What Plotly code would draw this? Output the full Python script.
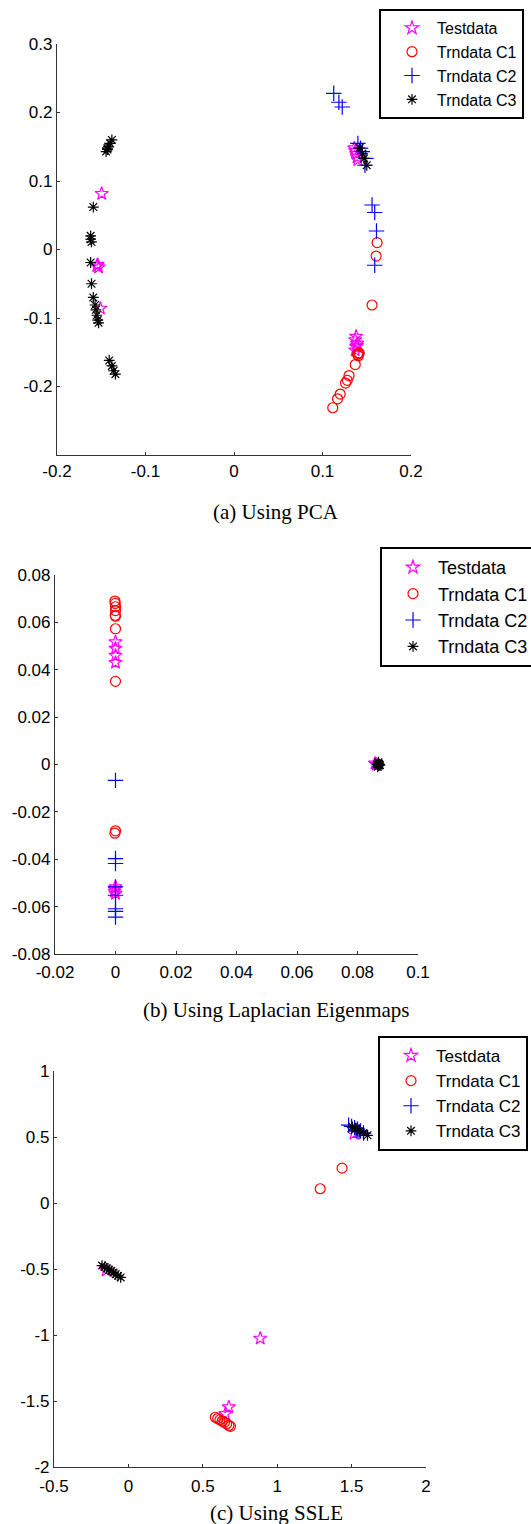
import plotly.graph_objects as go

W, H = 531, 1524

# ---------------- (a) PCA ----------------
a_test_x = [-0.1495, -0.154, -0.153, -0.155, -0.151, 0.136, 0.137, 0.138, 0.139, 0.140, 0.137, 0.138, 0.139, 0.137, 0.138, 0.139]
a_test_y = [0.0815, -0.022, -0.026, -0.024, -0.086, 0.148, 0.144, 0.140, 0.135, 0.131, -0.147, -0.142, -0.137, -0.132, -0.127, -0.140]
a_c1_x = [0.1617, 0.1606, 0.156, 0.1414, 0.1395, 0.1405, 0.1410, 0.137, 0.130, 0.128, 0.126, 0.120, 0.117, 0.1116]
a_c1_y = [0.010, -0.0096, -0.081, -0.151, -0.153, -0.155, -0.152, -0.168, -0.184, -0.191, -0.195, -0.211, -0.218, -0.231]
a_c2_x = [0.1127, 0.1185, 0.1223, 0.140, 0.143, 0.145, 0.149, 0.148, 0.156, 0.159, 0.161, 0.159]
a_c2_y = [0.228, 0.215, 0.208, 0.155, 0.148, 0.143, 0.133, 0.123, 0.065, 0.054, 0.027, -0.023]
a_c3_x = [-0.138, -0.140, -0.142, -0.143, -0.1445, -0.143, -0.159, -0.162, -0.162, -0.161, -0.162, -0.161, -0.159,
          -0.157, -0.156, -0.155, -0.154, -0.153, -0.141, -0.138, -0.136, -0.134, 0.142, 0.145, 0.147, 0.150]
a_c3_y = [0.160, 0.155, 0.150, 0.146, 0.143, 0.148, 0.062, 0.020, 0.015, 0.011, -0.019, -0.050, -0.070,
          -0.081, -0.088, -0.096, -0.103, -0.107, -0.162, -0.170, -0.177, -0.182, 0.148, 0.140, 0.133, 0.123]

# ---------------- (b) Laplacian Eigenmaps ----------------
b_test_x = [0.0, 0.0, 0.0, 0.0, 0.0, -0.0003, 0.0, -0.0002, 0.0858, 0.0862]
b_test_y = [0.0517, 0.049, 0.046, 0.043, -0.0517, -0.0535, -0.0545, -0.0525, 0.0005, 0.0]
b_c1_x = [-0.0002, -0.0001, 0.0, 0.0, -0.0001, 0.0, 0.0, 0.0, 0.0, -0.0002]
b_c1_y = [0.069, 0.068, 0.0666, 0.065, 0.063, 0.0626, 0.0573, 0.0351, -0.028, -0.029]
b_c2_x = [0.0, 0.0, 0.0, 0.0, 0.0, 0.0, 0.0, 0.0]
b_c2_y = [-0.0067, -0.0397, -0.0418, -0.0517, -0.0552, -0.0609, -0.062, -0.0644]
b_c3_x = [0.0865, 0.0868, 0.0870, 0.0872, 0.0869, 0.0867, 0.0871, 0.0874]
b_c3_y = [0.0, 0.0005, -0.0005, 0.0, 0.001, -0.001, 0.0003, -0.0003]

# ---------------- (c) SSLE ----------------
c_test_x = [1.516, 0.886, 0.675, 0.652, -0.15]
c_test_y = [0.526, -1.026, -1.546, -1.597, -0.51]
c_c1_x = [1.436, 1.289, 0.584, 0.600, 0.615, 0.630, 0.645, 0.660, 0.675, 0.686]
c_c1_y = [0.264, 0.108, -1.623, -1.633, -1.642, -1.652, -1.662, -1.672, -1.685, -1.692]
c_c2_x = [1.48, 1.50, 1.52, 1.54, 1.56, 1.58, 1.53, 1.55]
c_c2_y = [0.59, 0.58, 0.57, 0.56, 0.545, 0.53, 0.55, 0.54]
c_c3_x = [-0.177, -0.160, -0.145, -0.130, -0.115, -0.100, -0.085, -0.070, -0.052, 1.505, 1.530, 1.555, 1.580, 1.607]
c_c3_y = [-0.474, -0.485, -0.495, -0.505, -0.515, -0.527, -0.540, -0.552, -0.564, 0.577, 0.562, 0.545, 0.530, 0.513]

names = ["Testdata", "Trndata C1", "Trndata C2", "Trndata C3"]
symbols = ["star-open", "circle-open", "cross-thin-open", "asterisk-open"]
colors = ["#ff00ff", "#ff0000", "#0000ff", "#000000"]
sizes = [10, 10, 11, 9]

panels = [
    dict(xs=[a_test_x, a_c1_x, a_c2_x, a_c3_x], ys=[a_test_y, a_c1_y, a_c2_y, a_c3_y],
         xr=[-0.2, 0.2], yr=[-0.3, 0.3],
         xt=[-0.2, -0.1, 0, 0.1, 0.2], xtt=["-0.2", "-0.1", "0", "0.1", "0.2"],
         yt=[-0.2, -0.1, 0, 0.1, 0.2, 0.3], ytt=["-0.2", "-0.1", "0", "0.1", "0.2", "0.3"],
         px=[57, 411], py=[44, 455], leg=(379, 9, 16), cap="(a) Using PCA", capy=512, xstand=0),
    dict(xs=[b_test_x, b_c1_x, b_c2_x, b_c3_x], ys=[b_test_y, b_c1_y, b_c2_y, b_c3_y],
         xr=[-0.02, 0.1], yr=[-0.08, 0.08],
         xt=[-0.02, 0, 0.02, 0.04, 0.06, 0.08, 0.1], xtt=["-0.02", "0", "0.02", "0.04", "0.06", "0.08", "0.1"],
         yt=[-0.08, -0.06, -0.04, -0.02, 0, 0.02, 0.04, 0.06, 0.08],
         ytt=["-0.08", "-0.06", "-0.04", "-0.02", "0", "0.02", "0.04", "0.06", "0.08"],
         px=[55, 418], py=[575, 954], leg=(380, 547, 18), cap="(b) Using Laplacian Eigenmaps", capy=1010, xstand=2),
    dict(xs=[c_test_x, c_c1_x, c_c2_x, c_c3_x], ys=[c_test_y, c_c1_y, c_c2_y, c_c3_y],
         xr=[-0.5, 2], yr=[-2, 1],
         xt=[-0.5, 0, 0.5, 1, 1.5, 2], xtt=["-0.5", "0", "0.5", "1", "1.5", "2"],
         yt=[-2, -1.5, -1, -0.5, 0, 0.5, 1], ytt=["-2", "-1.5", "-1", "-0.5", "0", "0.5", "1"],
         px=[54, 426], py=[1071, 1467], leg=(378, 1036, 17), cap="(c) Using SSLE", capy=1513, xstand=3),
]

fig = go.Figure()
layout = dict(width=W, height=H, margin=dict(l=0, r=0, t=0, b=0, autoexpand=False),
              paper_bgcolor="white", plot_bgcolor="white", annotations=[],
              font=dict(family="Liberation Sans, Arial", size=17, color="black"))

for i, p in enumerate(panels):
    k = "" if i == 0 else str(i + 1)
    legname = "legend" + k
    for j in range(4):
        fig.add_trace(go.Scatter(
            x=p["xs"][j], y=p["ys"][j], mode="markers", name=names[j],
            xaxis="x" + k, yaxis="y" + k, legend=legname,
            marker=dict(symbol=symbols[j], color=colors[j], size=sizes[j],
                        line=dict(width=1.2, color=colors[j]))))
    axstyle = dict(showline=True, linecolor="#333333", linewidth=1.2, ticks="inside", ticklen=3,
                   tickcolor="#333333", showgrid=False, zeroline=False, mirror=False,
                   tickfont=dict(family="Liberation Sans, Arial", size=17, color="black"))
    layout["xaxis" + k] = dict(axstyle, domain=[p["px"][0] / W, p["px"][1] / W], range=p["xr"],
                               tickvals=p["xt"], ticktext=p["xtt"], anchor="y" + k,
                               ticklabelstandoff=p["xstand"])
    layout["yaxis" + k] = dict(axstyle, domain=[1 - p["py"][1] / H, 1 - p["py"][0] / H], range=p["yr"],
                               tickvals=p["yt"], ticktext=p["ytt"], anchor="x" + k)
    lx, ly, lf = p["leg"]
    layout[legname] = dict(x=lx / W, y=1 - ly / H, xanchor="left", yanchor="top",
                           bordercolor="black", borderwidth=2, bgcolor="white",
                           font=dict(family="Liberation Sans, Arial", size=lf, color="black"),
                           itemwidth=40, tracegroupgap=0, indentation=6)
    layout["annotations"].append(dict(text=p["cap"], x=0.52, y=1 - p["capy"] / H, xref="paper", yref="paper",
                                      xanchor="center", yanchor="middle", showarrow=False,
                                      font=dict(family="Liberation Serif, Times New Roman", size=21, color="black")))

fig.update_layout(**layout)
fig.write_html("out.html")
